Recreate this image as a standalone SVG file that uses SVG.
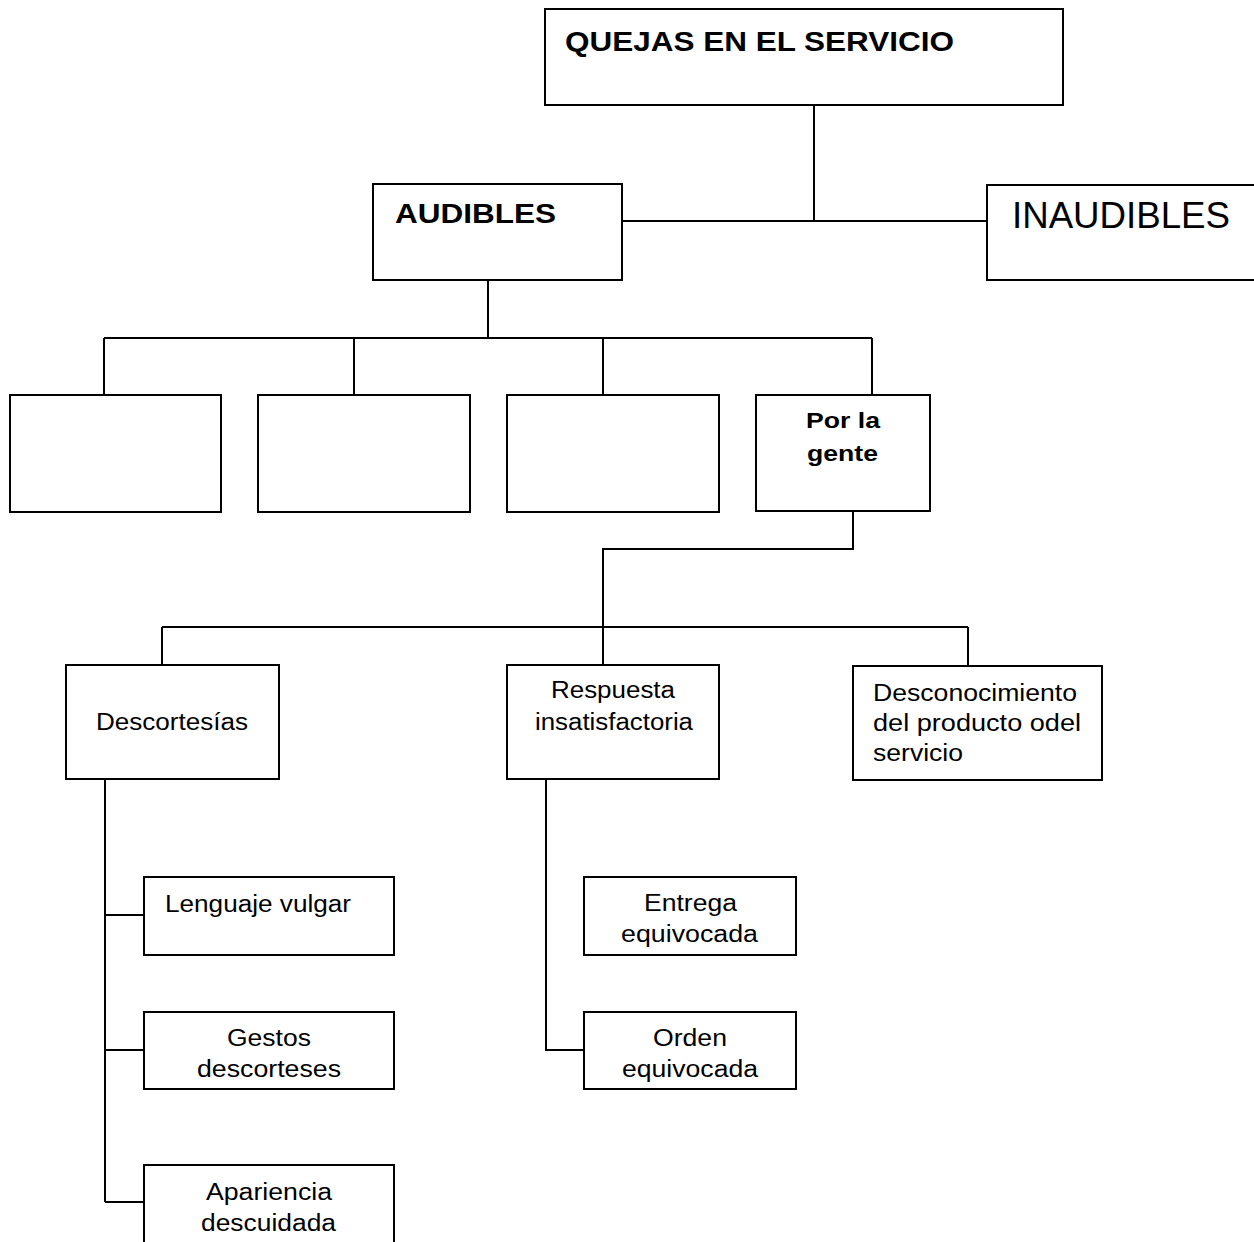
<svg xmlns="http://www.w3.org/2000/svg" width="1254" height="1242" viewBox="0 0 1254 1242">
<style>
.box{fill:#fff;stroke:#000;stroke-width:2}
.ln{fill:none;stroke:#000;stroke-width:2}
text{font-family:"Liberation Sans",Arial,sans-serif;fill:#000}
.b{font-weight:bold;font-size:27px}
.r{font-size:23px}
.pg{font-weight:bold;font-size:22px}
</style>
<rect width="1254" height="1242" fill="#fff"/>
<g id="connectors">
<path class="ln" d="M814 105V221M622 221H987"/>
<path class="ln" d="M488 280V338M104 338H872M104 338V395M354 338V395M603 338V395M872 338V395"/>
<path class="ln" d="M853 511V549H603V665M162 627H968M162 627V665M968 627V666"/>
<path class="ln" d="M105 779V1202M105 915H144M105 1050H144M105 1202H144"/>
<path class="ln" d="M546 779V1050H584"/>
</g>
<g id="quejas"><rect class="box" x="545" y="9" width="518" height="96"/><text class="b" x="565" y="51" font-size="28" textLength="389" lengthAdjust="spacingAndGlyphs">QUEJAS EN EL SERVICIO</text></g>
<g id="audibles"><rect class="box" x="373" y="184" width="249" height="96"/><text class="b" x="395" y="223" textLength="161" lengthAdjust="spacingAndGlyphs">AUDIBLES</text></g>
<g id="inaudibles"><rect class="box" x="987" y="185" width="280" height="95"/><text x="1012" y="228" font-size="36" textLength="218" lengthAdjust="spacingAndGlyphs">INAUDIBLES</text></g>
<g id="box1"><rect class="box" x="10" y="395" width="211" height="117"/></g>
<g id="box2"><rect class="box" x="258" y="395" width="212" height="117"/></g>
<g id="box3"><rect class="box" x="507" y="395" width="212" height="117"/></g>
<g id="porlagente"><rect class="box" x="756" y="395" width="174" height="116"/><text class="pg" x="806" y="428" textLength="74" lengthAdjust="spacingAndGlyphs">Por la</text><text class="pg" x="807" y="461" textLength="71" lengthAdjust="spacingAndGlyphs">gente</text></g>
<g id="descortesias"><rect class="box" x="66" y="665" width="213" height="114"/><text class="r" x="96" y="730" textLength="152" lengthAdjust="spacingAndGlyphs">Descortesías</text></g>
<g id="respuesta"><rect class="box" x="507" y="665" width="212" height="114"/><text class="r" x="551" y="698" textLength="124" lengthAdjust="spacingAndGlyphs">Respuesta</text><text class="r" x="535" y="730" textLength="158" lengthAdjust="spacingAndGlyphs">insatisfactoria</text></g>
<g id="desconocimiento"><rect class="box" x="853" y="666" width="249" height="114"/><text class="r" x="873" y="701" textLength="204" lengthAdjust="spacingAndGlyphs">Desconocimiento</text><text class="r" x="873" y="731" textLength="208" lengthAdjust="spacingAndGlyphs">del producto odel</text><text class="r" x="873" y="761" textLength="90" lengthAdjust="spacingAndGlyphs">servicio</text></g>
<g id="lenguaje"><rect class="box" x="144" y="877" width="250" height="78"/><text class="r" x="165" y="912" textLength="186" lengthAdjust="spacingAndGlyphs">Lenguaje vulgar</text></g>
<g id="gestos"><rect class="box" x="144" y="1012" width="250" height="77"/><text class="r" x="227" y="1046" textLength="84" lengthAdjust="spacingAndGlyphs">Gestos</text><text class="r" x="197" y="1077" textLength="144" lengthAdjust="spacingAndGlyphs">descorteses</text></g>
<g id="apariencia"><rect class="box" x="144" y="1165" width="250" height="100"/><text class="r" x="206" y="1200" textLength="126" lengthAdjust="spacingAndGlyphs">Apariencia</text><text class="r" x="201" y="1231" textLength="135" lengthAdjust="spacingAndGlyphs">descuidada</text></g>
<g id="entrega"><rect class="box" x="584" y="877" width="212" height="78"/><text class="r" x="644" y="911" textLength="93" lengthAdjust="spacingAndGlyphs">Entrega</text><text class="r" x="621" y="942" textLength="137" lengthAdjust="spacingAndGlyphs">equivocada</text></g>
<g id="orden"><rect class="box" x="584" y="1012" width="212" height="77"/><text class="r" x="653" y="1046" textLength="74" lengthAdjust="spacingAndGlyphs">Orden</text><text class="r" x="622" y="1077" textLength="136" lengthAdjust="spacingAndGlyphs">equivocada</text></g>
</svg>
